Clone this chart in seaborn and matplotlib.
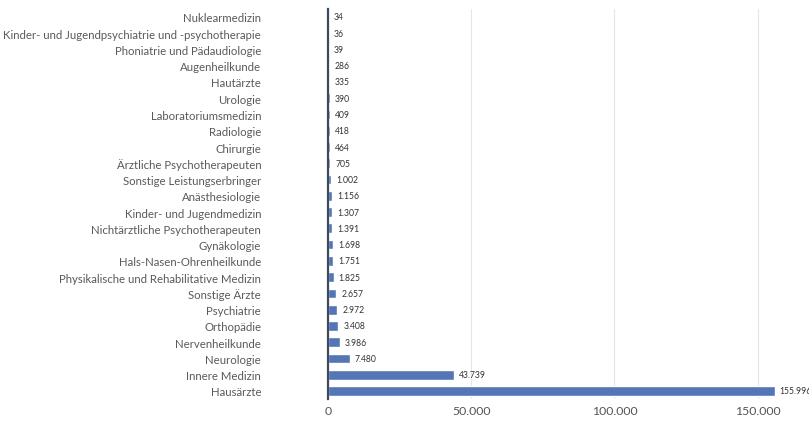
import matplotlib
matplotlib.use("Agg")
import pandas as pd
import matplotlib.pyplot as plt
import seaborn as sns

categories = [
    "Nuklearmedizin",
    "Kinder- und Jugendpsychiatrie und -psychotherapie",
    "Phoniatrie und Pädaudiologie",
    "Augenheilkunde",
    "Hautärzte",
    "Urologie",
    "Laboratoriumsmedizin",
    "Radiologie",
    "Chirurgie",
    "Ärztliche Psychotherapeuten",
    "Sonstige Leistungserbringer",
    "Anästhesiologie",
    "Kinder- und Jugendmedizin",
    "Nichtärztliche Psychotherapeuten",
    "Gynäkologie",
    "Hals-Nasen-Ohrenheilkunde",
    "Physikalische und Rehabilitative Medizin",
    "Sonstige Ärzte",
    "Psychiatrie",
    "Orthopädie",
    "Nervenheilkunde",
    "Neurologie",
    "Innere Medizin",
    "Hausärzte",
]
values = [34, 36, 39, 286, 335, 390, 409, 418, 464, 705, 1002, 1156, 1307, 1391,
          1698, 1751, 1825, 2657, 2972, 3408, 3986, 7480, 43739, 155996]
x_ticks = [0, 50000, 100000, 150000]


def de_fmt(v):
    return f"{v:,}".replace(",", ".")


df = pd.DataFrame({"Fachgruppe": categories, "Anzahl": values})

sns.set_style("white")
plt.rcParams["font.family"] = ["Lato", "DejaVu Sans"]

fig = plt.figure(figsize=(8.09, 4.27), dpi=100)
ax = fig.add_axes([0.406, 0.063, 0.594, 0.914])

sns.barplot(data=df, x="Anzahl", y="Fachgruppe", color="#4472c4",
            width=0.6, ax=ax, orient="h")

for i, v in enumerate(values):
    ax.text(v + 1800, i, de_fmt(v), va="center", ha="left",
            fontsize=6.2, color="#333333")

ax.set_xlim(0, 168000)
ax.set_ylim(len(categories) - 0.5, -0.5)
ax.set_xticks(x_ticks)
ax.set_xticklabels([de_fmt(t) for t in x_ticks])
ax.grid(axis="x", color="#e6e6e6", linewidth=0.8)
ax.set_axisbelow(True)
ax.set_xlabel("")
ax.set_ylabel("")

for s in ["top", "right", "bottom"]:
    ax.spines[s].set_visible(False)
ax.spines["left"].set_color("#3d4a5c")
ax.spines["left"].set_linewidth(1.6)

ax.tick_params(axis="y", length=0, pad=27, labelsize=8.2, labelcolor="#5a5a5a")
ax.tick_params(axis="x", length=0, pad=4, labelsize=8.8, labelcolor="#555555")
for lbl in ax.get_yticklabels():
    lbl.set_x(-0.062)

fig.savefig("out.png", dpi=100)
plt.close(fig)
